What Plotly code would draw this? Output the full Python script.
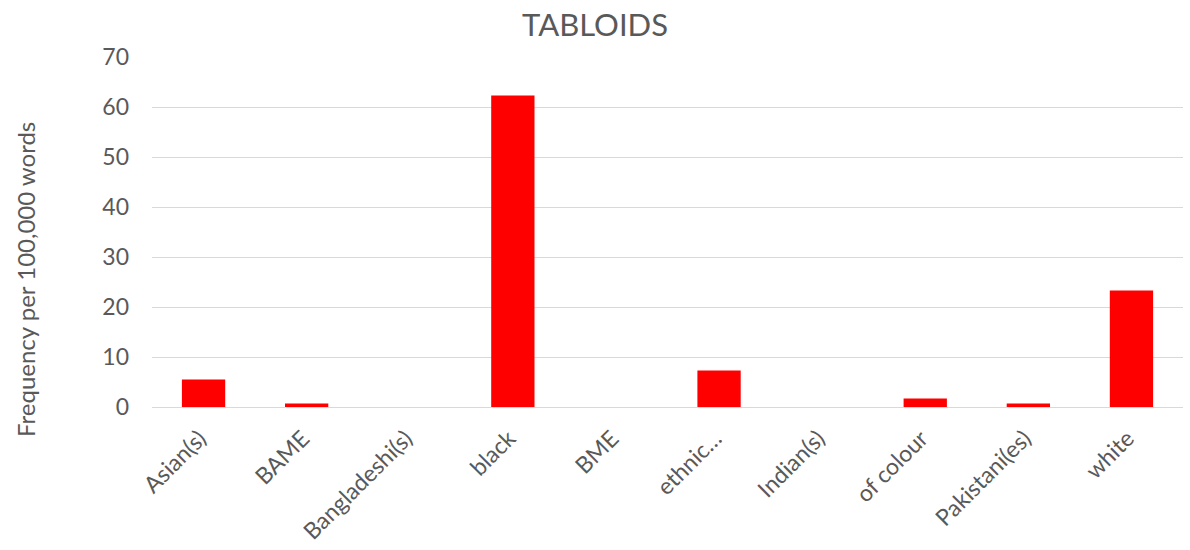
import plotly.graph_objects as go

categories = ["Asian(s)", "BAME", "Bangladeshi(s)", "black", "BME", "ethnic…",
              "Indian(s)", "of colour", "Pakistani(es)", "white"]
values = [5.5, 0.7, 0.0, 62.3, 0.0, 7.3, 0.0, 1.7, 0.7, 23.3]
y_ticks = [0, 10, 20, 30, 40, 50, 60, 70]

fig = go.Figure(go.Bar(x=categories, y=values, marker=dict(color="#FF0000", line=dict(width=0)),
                       width=0.42))

font = "Lato, Carlito, 'Open Sans', sans-serif"
L, R, T, B = 152, 7, 57, 143
plot_w, plot_h = 1190 - L - R, 550 - T - B
fig.update_layout(
    width=1190, height=550,
    margin=dict(l=L, r=R, t=T, b=B, autoexpand=False),
    paper_bgcolor="white", plot_bgcolor="white",
    font=dict(family=font, color="#595959", size=23),
    title=dict(text="TABLOIDS", x=0.5, xanchor="center", y=1 - 25/550, yanchor="middle",
               font=dict(size=31, color="#595959", family=font)),
    showlegend=False,
)
fig.update_xaxes(tickangle=-45, tickfont=dict(size=23), showgrid=False, showline=True,
                 linecolor="#D9D9D9", linewidth=1, ticks="", ticklabelstandoff=8,
                 ticklabelshift=-4, automargin=False)
fig.update_yaxes(range=[0, 70], tickvals=y_ticks, showgrid=True, gridcolor="#D9D9D9",
                 gridwidth=1, zeroline=False, showline=False, ticks="", ticklen=0,
                 tickfont=dict(size=23), ticklabelstandoff=22, automargin=False)
fig.add_annotation(text="Frequency per 100,000 words", textangle=-90,
                   xref="paper", yref="paper",
                   x=(25 - L) / plot_w, y=(550 - B - 280) / plot_h,
                   xanchor="center", yanchor="middle", showarrow=False,
                   font=dict(size=24, color="#595959", family=font))
fig.write_html("out.html")
